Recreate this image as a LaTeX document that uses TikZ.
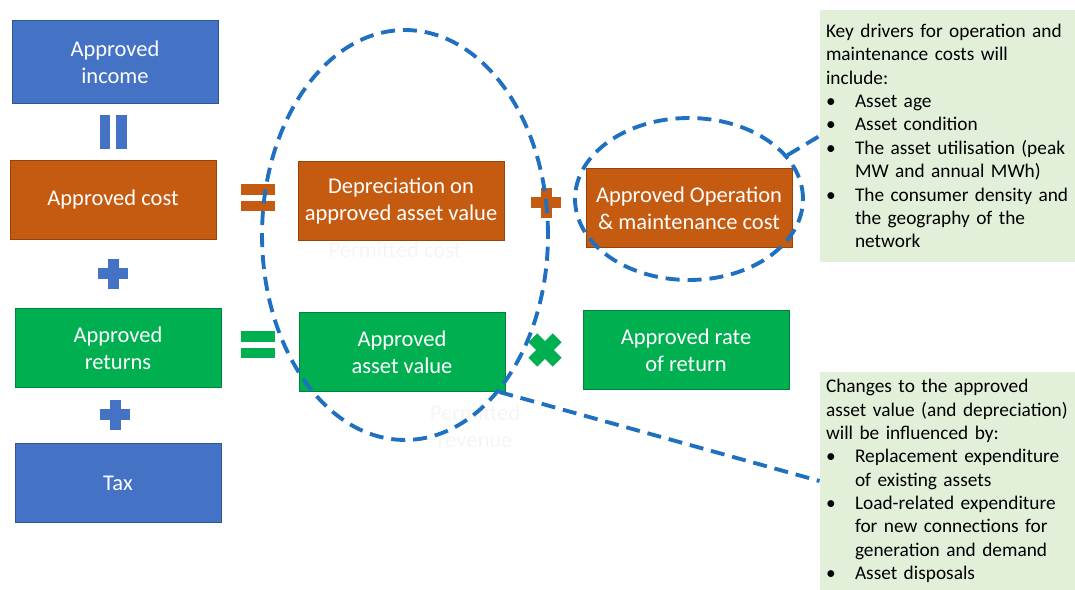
\documentclass[tikz,border=0pt]{standalone}
\usepackage{fontspec}
\setmainfont{Carlito}
\usetikzlibrary{shapes.geometric}
\usetikzlibrary{positioning}

\definecolor{incomeblue}{HTML}{4472C4}
\definecolor{costorange}{HTML}{C55A11}
\definecolor{returngreen}{HTML}{00B050}
\definecolor{notegreen}{HTML}{E2F0D9}
\definecolor{ringblue}{HTML}{1F70C1}

\newcommand{\bul}[1]{\par\hangindent=1.5em\hangafter=1\noindent\makebox[1.5em][l]{\textbullet}#1\par}
\newcommand{\nl}{\hfil\break}
\newcommand{\notefont}{\fontsize{11}{13.3}\selectfont\hyphenpenalty=10000\relax}

\tikzset{
  block/.style={draw=#1!75!black, fill=#1, text=white, align=center,
    minimum width=4.12cm, minimum height=1.58cm, inner sep=2pt,
    font=\fontsize{12.8}{15.3}\selectfont},
  dashring/.style={draw=ringblue, line width=2.2pt, dash pattern=on 8pt off 4.5pt, ellipse, inner sep=0pt},
  ringline/.style={draw=ringblue, line width=2.2pt, dash pattern=on 8pt off 4.5pt},
  note/.style={fill=notegreen, text width=4.9cm, inner xsep=3.5pt, inner ysep=4pt, align=left,
    font=\notefont},
  ghost/.style={text=black!4, align=center, font=\fontsize{12.8}{15.3}\selectfont},
  pics/plus sign/.style={code={
    \fill (-15,-5.5) rectangle (15,5.5);
    \fill (-5.5,-15) rectangle (5.5,15);}},
  pics/equal sign/.style={code={
    \fill (-17,-13.5) rectangle (17,-3);
    \fill (-17,3) rectangle (17,13.5);}},
}

\begin{document}
\begin{tikzpicture}[x=0.02cm, y=-0.02cm]
\useasboundingbox (0,0) rectangle (1075,590);

% faint labels behind the boxes
\node[ghost] (costghost) at (395,250) {Permitted cost};
\node[ghost] (revghost) at (475,426) {Permitted\\revenue};

% left column
\node[block=incomeblue, minimum height=1.66cm] (income) at (115,62) {Approved\\income};
\node[block=costorange] (cost) at (113,200) {Approved cost};
\node[block=returngreen] (returns) at (118,348) {Approved\\returns};
\node[block=incomeblue] (tax) at (118,483) {Tax};

% middle and right
\node[block=costorange] (depr) at (401,201) {Depreciation on\\approved asset value};
\node[block=costorange] (opex) at (689,208) {Approved Operation\\\& maintenance cost};
\node[block=returngreen] (rab) at (402,352) {Approved\\asset value};
\node[block=returngreen] (rate) at (686,350) {Approved rate\\of return};

% operators
\pic[fill=incomeblue, rotate=90] at (113,132) {equal sign};
\pic[fill=incomeblue] at (113,274) {plus sign};
\pic[fill=incomeblue] at (115,415) {plus sign};
\pic[fill=costorange] at (258,198) {equal sign};
\pic[fill=costorange] at (546,203) {plus sign};
\pic[fill=returngreen] at (258,345) {equal sign};
\pic[fill=returngreen, rotate=45, scale=1.15] at (545,350) {plus sign};

% rings
\node[dashring, minimum width=5.72cm, minimum height=8.2cm] (bigring) at (405,235) {};
\node[dashring, minimum width=4.56cm, minimum height=3.24cm] (smallring) at (689,199) {};

% notes
\node[note, minimum height=5.04cm] (drivers) at (948.5,136) {Key drivers for operation and\nl maintenance costs will\nl include:
\bul{Asset age}
\bul{Asset condition}
\bul{The asset utilisation (peak\nl MW and annual MWh)}
\bul{The consumer density and\nl the geography of the\nl network}};
\node[note, minimum height=4.36cm] (changes) at (948.5,481) {Changes to the approved\nl asset value (and depreciation)\nl will be influenced by:
\bul{Replacement expenditure\nl of existing assets}
\bul{Load-related expenditure\nl for new connections for\nl generation and demand}
\bul{Asset disposals}};

\draw[ringline] (smallring.24) -- (drivers.west);
\draw[ringline] (bigring.-59) -- (changes.west);
\end{tikzpicture}
\end{document}
